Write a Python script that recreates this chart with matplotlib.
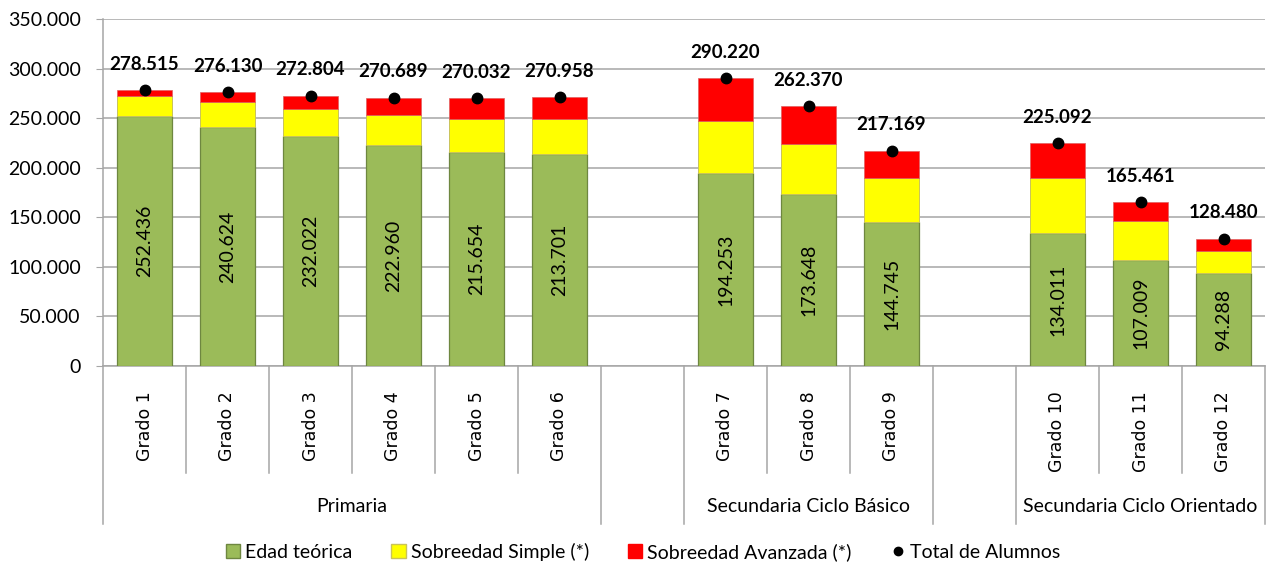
import matplotlib.pyplot as plt
import matplotlib.transforms as mtransforms
from matplotlib.patches import Patch
from matplotlib.lines import Line2D
import numpy as np

plt.rcParams.update({'font.family': ['Lato', 'DejaVu Sans']})

# datos
grados = ["Grado 1", "Grado 2", "Grado 3", "Grado 4", "Grado 5", "Grado 6",
          "Grado 7", "Grado 8", "Grado 9", "Grado 10", "Grado 11", "Grado 12"]
niveles = ["Primaria", "Secundaria Ciclo Básico", "Secundaria Ciclo Orientado"]
grados_por_nivel = [6, 3, 3]

edad_teorica = np.array([252436, 240624, 232022, 222960, 215654, 213701,
                         194253, 173648, 144745, 134011, 107009, 94288])
sobreedad_simple = np.array([19600, 25400, 27500, 29900, 33700, 35700,
                             52500, 50000, 44600, 55300, 39000, 22200])
total_alumnos = np.array([278515, 276130, 272804, 270689, 270032, 270958,
                          290220, 262370, 217169, 225092, 165461, 128480])
sobreedad_avanzada = total_alumnos - edad_teorica - sobreedad_simple


def fmt(v):
    return f"{v:,.0f}".replace(",", ".")


# posiciones con un hueco entre niveles
pos = []
start = 0
limites = []
for n in grados_por_nivel:
    limites.append((start, start + n))
    pos.extend(range(start, start + n))
    start += n + 1
pos = np.array(pos)
n_slots = start - 1

fig = plt.figure(figsize=(12.71, 5.65), dpi=100)
ax = fig.add_axes([103 / 1271, 199 / 565, 1162 / 1271, 347 / 565])

verde, amarillo, rojo = "#9BBB59", "#FFFF00", "#FF0000"
w = 0.67
ax.bar(pos, edad_teorica, w, color=verde, edgecolor="#6E8740", linewidth=0.9, zorder=3)
ax.bar(pos, sobreedad_simple, w, bottom=edad_teorica, color=amarillo,
       edgecolor="#C9C35A", linewidth=0.7, zorder=3)
ax.bar(pos, sobreedad_avanzada, w, bottom=edad_teorica + sobreedad_simple,
       color=rojo, edgecolor="#E06060", linewidth=0.5, zorder=3)
ax.plot(pos, total_alumnos, 'o', color='black', markersize=7.5, zorder=5)

for x, v, t in zip(pos, edad_teorica, total_alumnos):
    ax.text(x, v / 2, fmt(v), rotation=90, ha='center', va='center',
            fontsize=14, color='black', zorder=6)
    ax.annotate(fmt(t), (x, t), xytext=(0, 18.5), textcoords='offset points',
                ha='center', va='center', fontsize=13.5, fontweight='bold', zorder=6)

ax.set_xlim(-0.5, n_slots - 0.5)
ax.set_ylim(0, 350000)
ax.set_yticks(np.arange(0, 350001, 50000))
ax.set_yticklabels([fmt(v) for v in np.arange(0, 350001, 50000)], fontsize=14)
ax.yaxis.grid(True, color="#A6A6A6", linewidth=1.1, zorder=0)
ax.set_axisbelow(True)
ax.tick_params(axis='y', length=5, color="#A6A6A6", pad=11)
ax.set_xticks([])
for s in ['top', 'right']:
    ax.spines[s].set_visible(False)
ax.spines['left'].set_color("#A6A6A6")
ax.spines['bottom'].set_color("#A6A6A6")
ax.spines['left'].set_linewidth(1.1)
ax.spines['bottom'].set_linewidth(1.1)

# ejes de categorias en dos niveles
trans = mtransforms.blended_transform_factory(ax.transData, ax.transAxes)
y_corta = -107 / 347
y_larga = -158 / 347
largas = set()
for a, b in limites:
    largas.add(a - 0.5)
    largas.add(b - 0.5)
for k in range(n_slots + 1):
    xk = k - 0.5
    yk = y_larga if xk in largas else y_corta
    if k < n_slots and (k in pos or (k - 1) in pos) or xk in largas:
        ax.plot([xk, xk], [0, yk], color="#A6A6A6", linewidth=1.1,
                transform=trans, clip_on=False)

for x, g in zip(pos, grados):
    ax.text(x, -25 / 347, g, rotation=90, ha='center', va='top',
            fontsize=12.5, family='DejaVu Sans', transform=trans, color='black')

for (a, b), nivel in zip(limites, niveles):
    ax.text((a + b - 1) / 2, -141 / 347, nivel, ha='center', va='center',
            fontsize=14, transform=trans)

handles = [
    Patch(facecolor=verde, edgecolor="#6E8740", label="Edad teórica"),
    Patch(facecolor=amarillo, edgecolor="#C9C35A", label="Sobreedad Simple (*)"),
    Patch(facecolor=rojo, edgecolor=rojo, label="Sobreedad Avanzada (*)"),
    Line2D([], [], marker='o', color='black', linestyle='none', markersize=6,
           label="Total de Alumnos"),
]
fig.legend(handles=handles, loc='center', bbox_to_anchor=(643 / 1271, 1 - 552 / 565),
           ncol=4, frameon=False, fontsize=14, handlelength=0.75, handleheight=0.75,
           handletextpad=0.25, columnspacing=2.0)

fig.savefig("out.png", dpi=100)
